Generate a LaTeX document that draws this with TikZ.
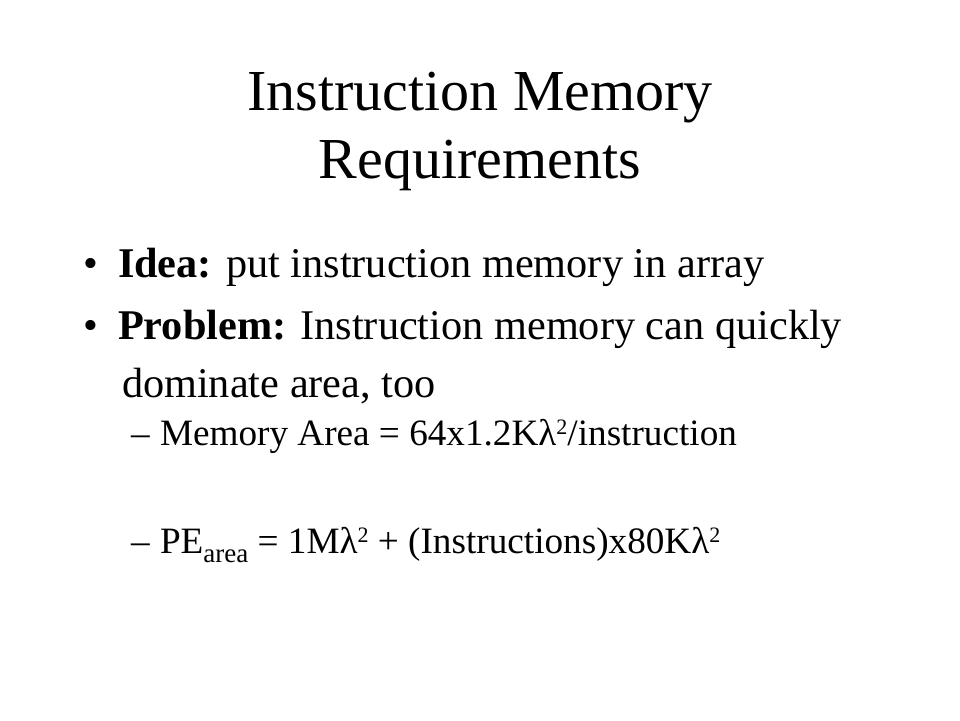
\documentclass[tikz,border=0pt]{standalone}
\usepackage{fontspec}
\setmainfont{Liberation Serif}
\newcommand\mysup[1]{\raisebox{11pt}{\fontsize{22}{22}\selectfont #1}}
\newcommand\mysub[1]{\raisebox{-9pt}{\fontsize{27}{27}\selectfont #1}}
\begin{document}
\begin{tikzpicture}[x=1pt,y=1pt,
  txt/.style={anchor=base west,inner sep=0pt,outer sep=0pt},
  ttl/.style={anchor=base,inner sep=0pt,font=\fontsize{58}{68}\selectfont},
  lvlone/.style={txt,font=\fontsize{42.3}{48}\selectfont},
  lvltwo/.style={txt,font=\fontsize{37.2}{42}\selectfont}]
\useasboundingbox[fill=white] (0,0) rectangle (960,-720);
\node[ttl] (t1) at (480,-110) {Instruction Memory};
\node[ttl] (t2) at (480,-178) {Requirements};
\node[lvlone] (b1) at (83,-277) {•};
\node[lvlone] (l1) at (118,-277) {\textbf{Idea:} put instruction memory in array};
\node[lvlone] (b2) at (83,-339) {•};
\node[lvlone] (l2) at (118,-339) {\textbf{Problem:} Instruction memory can quickly};
\node[lvlone] (l3) at (122,-397) {dominate area, too};
\node[lvltwo] (d1) at (131,-445) {–};
\node[lvltwo] (s1) at (160,-445) {Memory Area = 64x1.2Kλ\mysup{2}/instruction};
\node[lvltwo] (d2) at (131,-553) {–};
\node[lvltwo] (s2) at (160,-553) {PE\mysub{area} = 1Mλ\mysup{2} + (Instructions)x80Kλ\mysup{2}};
\end{tikzpicture}
\end{document}
